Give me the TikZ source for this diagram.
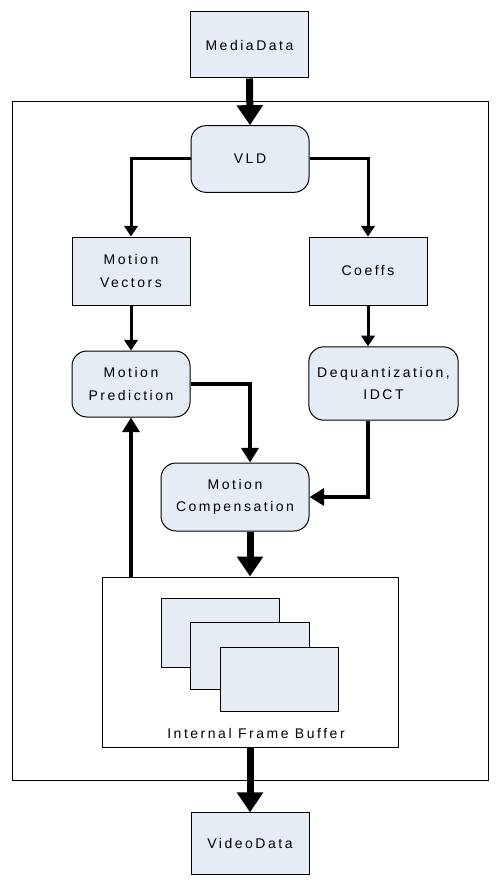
\documentclass[tikz,border=0pt]{standalone}
\usepackage{fontspec}
\setmainfont{Liberation Sans}[LetterSpace=18]
\usetikzlibrary{arrows.meta}
\definecolor{boxfill}{RGB}{230,236,246}

\tikzset{every picture/.style={line width=0.75pt}}
\tikzset{
  block/.style={draw, fill=boxfill, inner sep=0.75pt, align=center, font=\fontsize{10.5}{17}\selectfont},
  sqbox/.style={block},
  rndbox/.style={block, rounded corners=11.25pt},
  thinarrow/.style={line width=2.25pt, -{Triangle[length=8pt,width=10pt]}},
  midarrow/.style={line width=3pt, -{Triangle[length=11pt,width=12.75pt]}},
  bigarrow/.style={line width=5.25pt, -{Triangle[length=15pt,width=19pt]}},
}

\begin{document}
\begin{tikzpicture}[x=0.75pt,y=0.75pt,yscale=-1,xscale=1]
\path (0,0) rectangle (503,888); %set diagram size

%Outer frame
\draw    (12,102) rectangle (488,780) ;

%Boxes
\node [sqbox, minimum width=88.5pt, minimum height=49.5pt] (media) at (249.5,45) {MediaData};
\node [rndbox, minimum width=88.5pt, minimum height=50pt] (vld) at (250,159) {VLD};
\node [sqbox, minimum width=88.5pt, minimum height=51pt] (mv) at (131,271) {Motion\\Vectors};
\node [sqbox, minimum width=88.5pt, minimum height=51pt] (coeffs) at (368,271) {Coeffs};
\node [rndbox, minimum width=88.5pt, minimum height=49.5pt] (mp) at (131,384) {Motion\\Prediction};
\node [rndbox, minimum width=112pt, minimum height=55pt] (deq) at (383.5,383.5) {Dequantization,\\IDCT};
\node [rndbox, minimum width=111pt, minimum height=51pt] (mc) at (235,497) {Motion\\Compensation};
\node [draw, fill=white, minimum width=222pt, minimum height=127.5pt] (fb) at (250,662) {};
\node [sqbox, minimum width=88.5pt, minimum height=46pt] (video) at (250,843.5) {VideoData};

%Frames in buffer
\node [draw, fill=boxfill, minimum width=88.5pt, minimum height=51.75pt] (frmA) at (220,632.5) {};
\node [draw, fill=boxfill, minimum width=89.25pt, minimum height=50.25pt] (frmB) at (249.5,655.5) {};
\node [draw, fill=boxfill, minimum width=88.5pt, minimum height=48pt] (frmC) at (279,679) {};

% Text Node
\node [font=\fontsize{10.5}{17}\selectfont, inner sep=0.75pt] (fblabel) at (256,733) {Internal Frame Buffer};

%Connectors
\draw [bigarrow]  (media.south) -- (vld.north) ;
\draw [thinarrow]  (vld.west) -| (mv.north) ;
\draw [thinarrow]  (vld.east) -| (coeffs.north) ;
\draw [thinarrow]  (mv.south) -- (mp.north) ;
\draw [thinarrow]  (coeffs.south) -- (coeffs.south |- deq.north) ;
\draw [midarrow]  (mp.east) -| (vld.south |- mc.north) ;
\draw [midarrow]  (coeffs.south |- deq.south) |- (mc.east) ;
\draw [bigarrow]  (vld.south |- mc.south) -- (fb.north) ;
\draw [midarrow]  (mp.south |- fb.north) -- (mp.south) ;
\draw [bigarrow]  (fb.south) -- (video.north) ;

\end{tikzpicture}
\end{document}
